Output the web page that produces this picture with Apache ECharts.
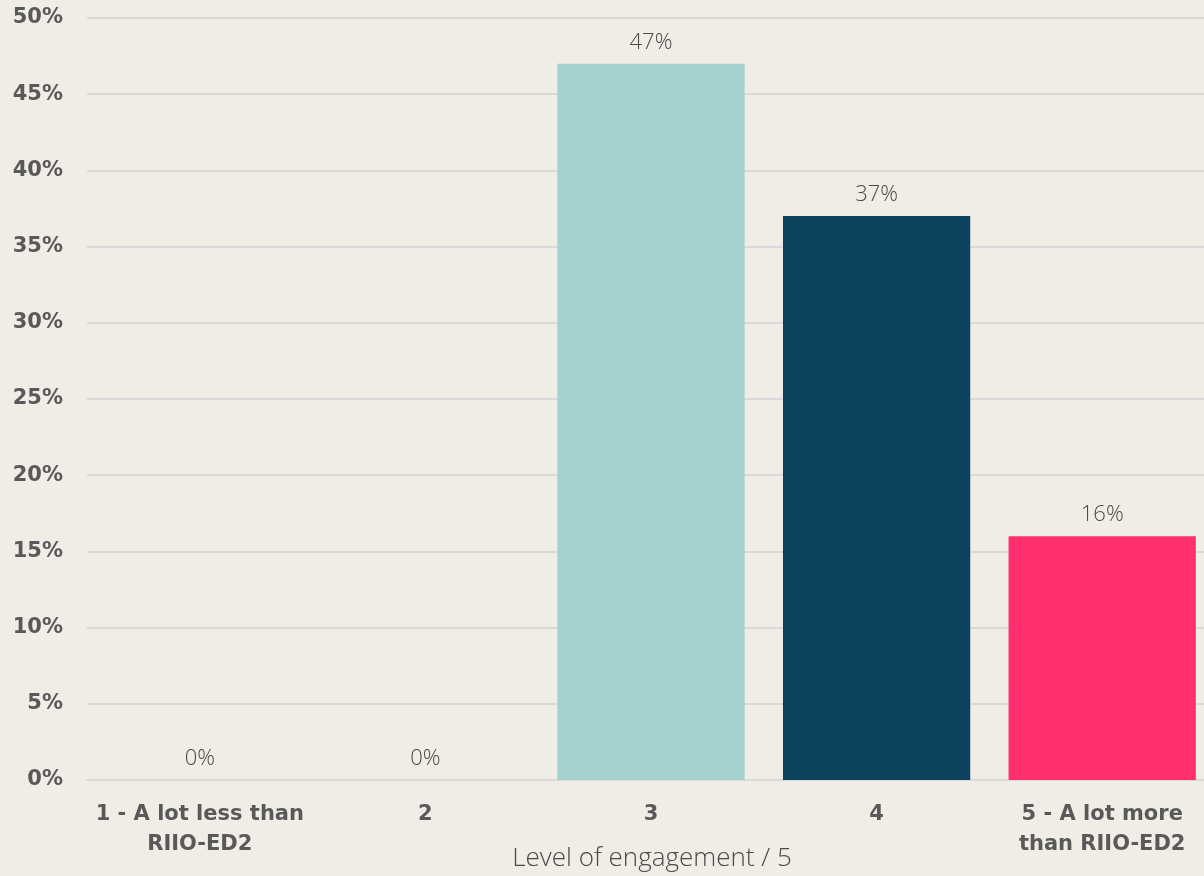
<!DOCTYPE html>
<html><head><meta charset="utf-8">
<script src="https://cdn.jsdelivr.net/npm/echarts@6/dist/echarts.min.js"></script>
<style>html,body{margin:0;padding:0;background:#F0ECE6;}#c{width:1204px;height:876px;}</style>
</head><body><div id="c"></div>
<script>
const categories = ['1 - A lot less than\nRIIO-ED2', '2', '3', '4', '5 - A lot more\nthan RIIO-ED2'];
const values = [0, 0, 47, 37, 16];
const barColors = ['#A4D0CE', '#A4D0CE', '#A4D0CE', '#0C435C', '#FF2E6E'];
const yTicks = [0, 5, 10, 15, 20, 25, 30, 35, 40, 45, 50];
const xAxisTitle = 'Level of engagement / 5';

const chart = echarts.init(document.getElementById('c'));
chart.setOption({
  backgroundColor: '#F0ECE6',
  textStyle: { fontFamily: 'Open Sans' },
  title: {
    text: xAxisTitle, left: 652, top: 846, textAlign: 'center', padding: 0,
    textStyle: { fontSize: 26, color: '#4A4A4A', fontWeight: 300, fontFamily: 'Open Sans' }
  },
  grid: { left: 87, right: -11, top: 18, bottom: 96, containLabel: false, outerBoundsMode: 'none' },
  xAxis: {
    type: 'category', data: categories,
    axisLine: { lineStyle: { color: '#D9D9D9', width: 2 } },
    axisTick: { show: false },
    axisLabel: { fontSize: 21, fontWeight: 'bold', fontFamily: 'DejaVu Sans', color: '#595959', lineHeight: 30, margin: 20, interval: 0 }
  },
  yAxis: {
    type: 'value', min: yTicks[0], max: yTicks[yTicks.length - 1], interval: 5,
    axisLabel: { formatter: '{value}%', fontSize: 21, fontWeight: 'bold', fontFamily: 'DejaVu Sans', color: '#595959', margin: 24 },
    splitLine: { lineStyle: { color: '#D9D9D9', width: 2 } },
    axisLine: { show: false }, axisTick: { show: false }
  },
  series: [{
    type: 'bar',
    data: values.map((v, i) => ({ value: v, itemStyle: { color: barColors[i] } })),
    barCategoryGap: '17%',
    label: { show: true, position: 'top', formatter: '{c}%', fontSize: 22, color: '#4A4A4A', fontWeight: 300, distance: 10 }
  }]
});
</script></body></html>
